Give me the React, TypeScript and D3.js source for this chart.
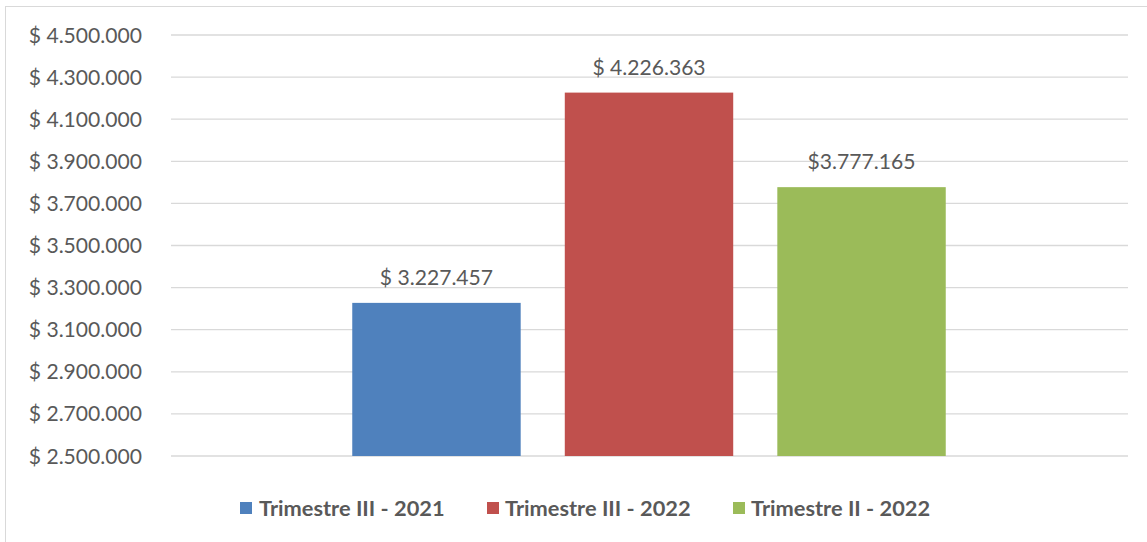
import React from "react";
import * as d3 from "d3";

const series = ["Trimestre III - 2021", "Trimestre III - 2022", "Trimestre II - 2022"];
const values = [3227457, 4226363, 3777165];
const valueLabels = ["$ 3.227.457", "$ 4.226.363", "$3.777.165"];
const colors = ["#4f81bd", "#c0504d", "#9bbb59"];
const yTicks = [2500000, 2700000, 2900000, 3100000, 3300000, 3500000, 3700000, 3900000, 4100000, 4300000, 4500000];
const yDomain = [2500000, 4500000];

const fmt = (v: number) => "$ " + d3.format(",")(v).replace(/,/g, ".");

export default function App() {
  const W = 1147, H = 542;
  const plotL = 171, plotR = 1128, plotT = 35, plotB = 456;
  const y = d3.scaleLinear().domain(yDomain).range([plotB, plotT]);
  const x = d3.scaleBand<string>().domain(series).range([331, 967]).paddingInner(0.2075).paddingOuter(0.1);
  const font = "Lato, 'Open Sans', sans-serif";
  const textColor = "#595959";
  const fs = 21.1;
  const legendItems = [
    { sx: 240, tx: 259 },
    { sx: 487, tx: 505 },
    { sx: 733, tx: 751 },
  ];
  return (
    <svg width={W} height={H} style={{ position: "absolute", left: 0, top: 0, background: "#fff" }}>
      <rect x={5.5} y={6.5} width={1200} height={600} fill="#fff" stroke="#d9d9d9" strokeWidth={1} />
      {yTicks.map((t) => (
        <g key={t}>
          <line x1={plotL} x2={plotR} y1={y(t)} y2={y(t)} stroke="#d9d9d9" strokeWidth={1.3} />
          <text x={142} y={y(t)} dy="0.36em" textAnchor="end" fontFamily={font} fontSize={fs} fill={textColor}>
            {fmt(t)}
          </text>
        </g>
      ))}
      {series.map((s, i) => {
        const bx = x(s)!;
        const bw = x.bandwidth();
        return (
          <g key={s}>
            <rect x={bx} y={y(values[i])} width={bw} height={plotB - y(values[i])} fill={colors[i]} />
            <text x={bx + bw / 2} y={y(values[i]) - 18} textAnchor="middle" fontFamily={font} fontSize={fs} fill={textColor}>
              {valueLabels[i]}
            </text>
          </g>
        );
      })}
      {series.map((s, i) => (
        <g key={"lg" + s}>
          <rect x={legendItems[i].sx} y={502} width={12} height={12} fill={colors[i]} />
          <text x={legendItems[i].tx} y={508} dy="0.36em" fontFamily={font} fontWeight={700} fontSize={21.8} fill={textColor}>
            {s}
          </text>
        </g>
      ))}
    </svg>
  );
}
